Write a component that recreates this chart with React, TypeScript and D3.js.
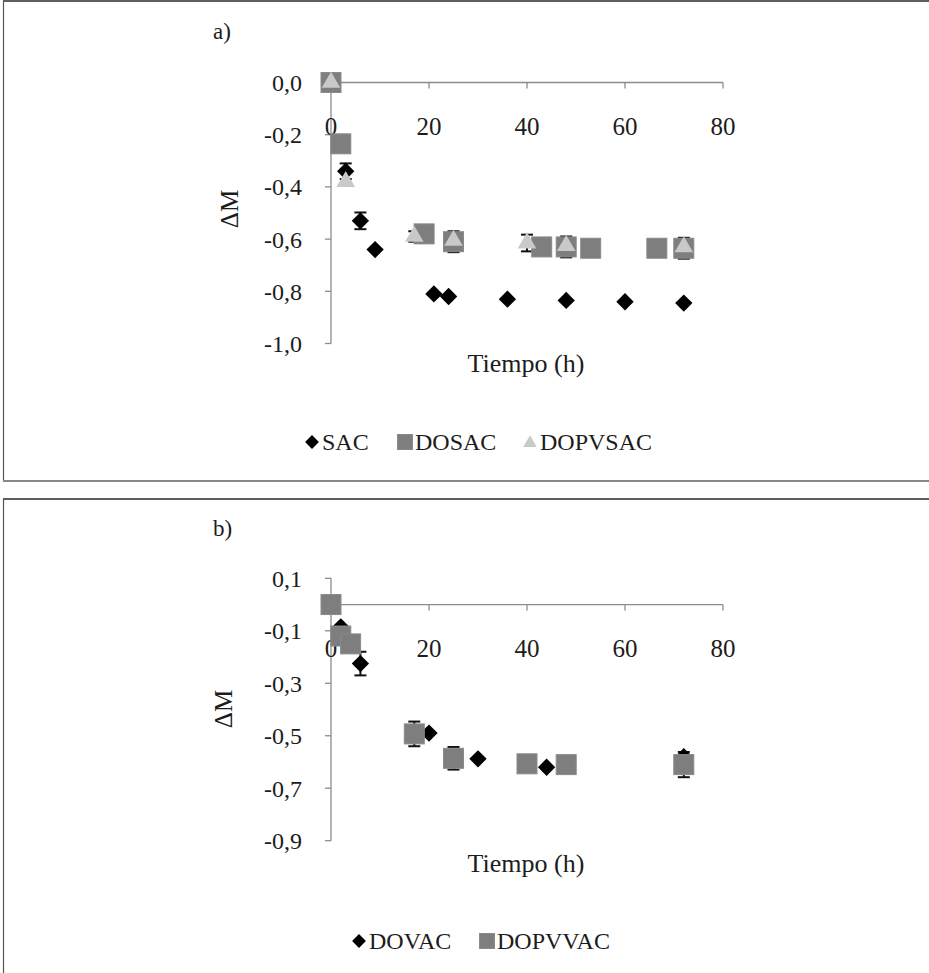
import * as d3 from "d3";

// hours (x) and ΔM values
const xTicks = [0, 20, 40, 60, 80];

const ticksA = [0, -0.2, -0.4, -0.6, -0.8, -1.0];
const sacT = [0, 3, 6, 9, 21, 24, 36, 48, 60, 72];
const sacM = [0, -0.34, -0.53, -0.64, -0.81, -0.82, -0.83, -0.835, -0.84, -0.845];
const sacE = [0, 0.03, 0.032, 0, 0, 0, 0, 0, 0, 0];
const dosacT = [0, 2, 19, 25, 43, 48, 53, 66.5, 72];
const dosacM = [0, -0.235, -0.58, -0.61, -0.63, -0.63, -0.635, -0.635, -0.635];
const dosacE = [0, 0, 0, 0.04, 0, 0.04, 0, 0, 0.04];
const dopvsacT = [0, 3, 17, 25, 40, 48, 72];
const dopvsacM = [0, -0.38, -0.59, -0.605, -0.615, -0.625, -0.63];
const dopvsacE = [0, 0, 0.02, 0, 0.032, 0, 0];

const ticksB = [0.1, -0.1, -0.3, -0.5, -0.7, -0.9];
const dovacT = [0, 2, 6, 20, 30, 44, 72];
const dovacM = [0, -0.085, -0.225, -0.49, -0.588, -0.62, -0.58];
const dovacE = [0, 0, 0.045, 0, 0, 0, 0];
const dopvvacT = [0, 2, 4, 17, 25, 40, 48, 72];
const dopvvacM = [0, -0.12, -0.15, -0.493, -0.586, -0.607, -0.61, -0.61];
const dopvvacE = [0, 0, 0, 0.047, 0.043, 0, 0, 0.048];

const font = "'Liberation Serif', 'Times New Roman', serif";
const ink = "#1c1c1c";
const axisGray = "#8c8c8c";

const fmt = (v: number) => v.toFixed(1).replace(".", ",");

type Series = { name: string; shape: "diamond" | "square" | "triangle"; t: number[]; m: number[]; e: number[] };

const fills = { diamond: "#000", square: "#7e7e7e", triangle: "#c9c9c9" };

function marker(shape: string, cx: number, cy: number, big: boolean, key: string) {
  if (shape === "diamond") {
    const p = d3.symbol(d3.symbolSquare, big ? 150 : 95)();
    return <path key={key} d={p || ""} fill={fills.diamond} transform={`translate(${cx},${cy}) rotate(45)`} />;
  }
  if (shape === "square") {
    const s = big ? 20 : 15;
    return <rect key={key} x={cx - s / 2} y={cy - s / 2} width={s} height={s} fill={fills.square} stroke="#8a8a8a" strokeWidth={1} />;
  }
  const p = d3.symbol(d3.symbolTriangle, big ? 150 : 80)();
  return <path key={key} d={p || ""} fill={fills.triangle} transform={`translate(${cx},${cy + (big ? 0 : 1)})`} />;
}

function Panel(props: {
  top: number; bottom: number | null; label: string; labelY: number;
  yDomain: [number, number]; yRange: [number, number]; yTicks: number[];
  series: Series[]; titleY: number; dmX: number; dmY: number;
  legendY: number; legendX: number[];
}) {
  const x = d3.scaleLinear().domain([0, 80]).range([331, 723]);
  const y = d3.scaleLinear().domain(props.yDomain).range(props.yRange);
  const y0 = y(0);
  const drawOrder = ["diamond", "square", "triangle"];
  const ordered = [...props.series].sort((a, b) => drawOrder.indexOf(a.shape) - drawOrder.indexOf(b.shape));
  return (
    <g>
      {/* frame */}
      <line x1={3} x2={929} y1={props.top} y2={props.top} stroke="#2a2a2a" strokeWidth={1.5} />
      <line x1={3.5} x2={3.5} y1={props.top} y2={props.bottom ?? 973} stroke="#555" strokeWidth={1.2} />
      {props.bottom !== null && (
        <line x1={3} x2={929} y1={props.bottom} y2={props.bottom} stroke="#888" strokeWidth={2} />
      )}
      <text x={213} y={props.labelY} fontFamily={font} fontSize={23} fill={ink}>{props.label}</text>

      {/* y axis */}
      <line x1={331} x2={331} y1={props.yRange[1]} y2={props.yRange[0]} stroke={axisGray} strokeWidth={1.3} />
      {props.yTicks.map((v) => (
        <g key={"yt" + v}>
          <line x1={325} x2={331} y1={y(v)} y2={y(v)} stroke={axisGray} strokeWidth={1.3} />
          <text x={302} y={y(v)} dy="0.35em" textAnchor="end" fontFamily={font} fontSize={24} fill={ink}>{fmt(v)}</text>
        </g>
      ))}
      <text transform={`translate(${props.dmX},${props.dmY}) rotate(-90)`} textAnchor="middle" dy="0.35em" fontFamily={font} fontSize={25} fill={ink}>ΔM</text>

      {/* x axis at ΔM = 0 */}
      <line x1={331} x2={723} y1={y0} y2={y0} stroke={axisGray} strokeWidth={1.3} />
      {xTicks.map((v) => (
        <g key={"xt" + v}>
          <line x1={x(v)} x2={x(v)} y1={y0} y2={y0 + 6} stroke={axisGray} strokeWidth={1.3} />
          <text x={x(v)} y={y0 + 44} dy="0.35em" textAnchor="middle" fontFamily={font} fontSize={25} fill={ink}>{v}</text>
        </g>
      ))}
      <text x={526} y={props.titleY} textAnchor="middle" fontFamily={font} fontSize={26} fill={ink}>Tiempo (h)</text>

      {/* error bars */}
      {props.series.map((s) =>
        s.t.map((t, i) => {
          const e = s.e[i];
          if (!e) return null;
          const cx = x(t);
          const ya = y(s.m[i] + e);
          const yb = y(s.m[i] - e);
          return (
            <g key={s.name + "e" + i} stroke="#111" strokeWidth={2}>
              <line x1={cx} x2={cx} y1={ya} y2={yb} />
              <line x1={cx - 6} x2={cx + 6} y1={ya} y2={ya} />
              <line x1={cx - 6} x2={cx + 6} y1={yb} y2={yb} />
            </g>
          );
        })
      )}

      {/* markers */}
      {ordered.map((s) => s.t.map((t, i) => marker(s.shape, x(t), y(s.m[i]), true, s.name + i)))}

      {/* legend */}
      {props.series.map((s, i) => (
        <g key={"lg" + s.name}>
          {marker(s.shape, props.legendX[i] - 10, props.legendY - 8, false, "lm" + s.name)}
          <text x={props.legendX[i]} y={props.legendY} fontFamily={font} fontSize={24} fill={ink}>{s.name}</text>
        </g>
      ))}
    </g>
  );
}

export default function App() {
  const seriesA: Series[] = [
    { name: "SAC", shape: "diamond", t: sacT, m: sacM, e: sacE },
    { name: "DOSAC", shape: "square", t: dosacT, m: dosacM, e: dosacE },
    { name: "DOPVSAC", shape: "triangle", t: dopvsacT, m: dopvsacM, e: dopvsacE },
  ];
  const seriesB: Series[] = [
    { name: "DOVAC", shape: "diamond", t: dovacT, m: dovacM, e: dovacE },
    { name: "DOPVVAC", shape: "square", t: dopvvacT, m: dopvvacM, e: dopvvacE },
  ];
  return (
    <svg width={929} height={973} style={{ position: "absolute", left: 0, top: 0, background: "#fff" }}>
      <rect width={929} height={973} fill="#fff" />
      <Panel
        top={1} bottom={481} label="a)" labelY={39}
        yDomain={[-1, 0]} yRange={[343.5, 82.5]} yTicks={ticksA}
        series={seriesA} titleY={372} dmX={229} dmY={209}
        legendY={450} legendX={[322, 415, 540]}
      />
      <Panel
        top={499} bottom={null} label="b)" labelY={536}
        yDomain={[-0.9, 0.1]} yRange={[840.7, 578.3]} yTicks={ticksB}
        series={seriesB} titleY={872} dmX={223} dmY={709}
        legendY={949} legendX={[369, 497]}
      />
    </svg>
  );
}
